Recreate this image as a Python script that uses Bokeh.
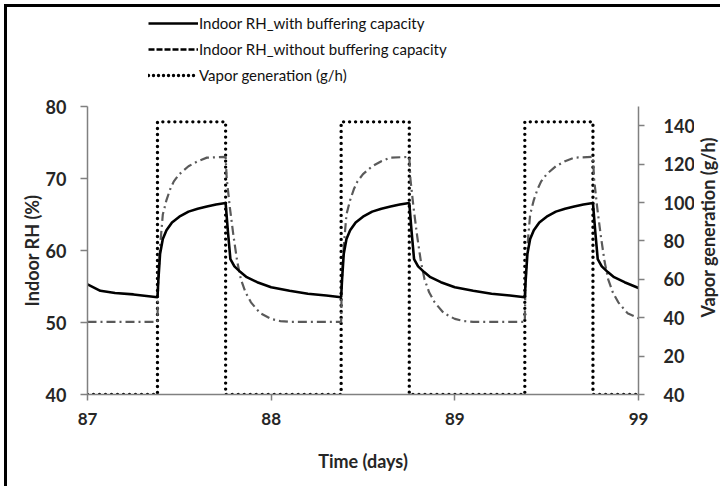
import math
from bokeh.plotting import figure
from bokeh.layouts import column, row
from bokeh.models import Range1d, LinearAxis, FixedTicker, Legend, LegendItem
from bokeh.core.properties import value
from bokeh.embed import file_html
from bokeh.resources import INLINE

# ---- data ----
time_with = [87.00, 87.07, 87.15, 87.25, 87.381, 87.386, 87.395, 87.41, 87.43, 87.46, 87.50, 87.55,
             87.60, 87.65, 87.70, 87.752, 87.765, 87.778, 87.80, 87.833, 87.867, 87.924,
             88.00, 88.10, 88.20, 88.30, 88.381, 88.386, 88.395, 88.41, 88.43, 88.46, 88.50, 88.55,
             88.60, 88.65, 88.70, 88.752, 88.765, 88.778, 88.80, 88.833, 88.867, 88.924,
             89.00, 89.10, 89.20, 89.30, 89.381, 89.386, 89.395, 89.41, 89.43, 89.46, 89.50, 89.55,
             89.60, 89.65, 89.70, 89.752, 89.765, 89.778, 89.80, 89.833, 89.867, 89.924, 90.00]
rh_with = [55.3, 54.4, 54.1, 53.9, 53.5, 56.0, 59.5, 61.6, 62.8, 63.9, 64.7, 65.4,
           65.8, 66.1, 66.4, 66.6, 62.5, 58.8, 57.8, 57.0, 56.3, 55.6,
           54.9, 54.4, 54.0, 53.75, 53.5, 56.0, 59.5, 61.6, 62.8, 63.9, 64.7, 65.4,
           65.8, 66.1, 66.4, 66.6, 62.5, 58.8, 57.8, 57.0, 56.3, 55.6,
           54.9, 54.4, 54.0, 53.75, 53.5, 56.0, 59.5, 61.6, 62.8, 63.9, 64.7, 65.4,
           65.8, 66.1, 66.4, 66.6, 62.5, 58.8, 57.8, 57.0, 56.3, 55.6, 54.8]

time_without = [87.00, 87.381, 87.384, 87.395, 87.41, 87.43, 87.45, 87.47, 87.50, 87.55, 87.60, 87.65,
                87.752, 87.758, 87.775, 87.795, 87.815, 87.835, 87.86, 87.89, 87.94, 88.00, 88.05, 88.10,
                88.381, 88.384, 88.395, 88.41, 88.43, 88.45, 88.47, 88.50, 88.55, 88.60, 88.65,
                88.752, 88.758, 88.775, 88.795, 88.815, 88.835, 88.86, 88.89, 88.94, 89.00, 89.05, 89.10,
                89.381, 89.384, 89.395, 89.41, 89.43, 89.45, 89.47, 89.50, 89.55, 89.60, 89.65,
                89.752, 89.758, 89.775, 89.795, 89.815, 89.835, 89.86, 89.89, 89.94, 90.00]
rh_without = [50.1, 50.1, 55.0, 60.5, 65.0, 67.0, 68.5, 69.6, 70.6, 71.7, 72.4, 72.9,
              73.0, 70.0, 66.0, 62.0, 58.5, 56.0, 54.2, 52.8, 51.3, 50.5, 50.2, 50.1,
              50.1, 55.0, 60.5, 65.0, 67.0, 68.5, 69.6, 70.6, 71.7, 72.4, 72.9,
              73.0, 70.0, 66.0, 62.0, 58.5, 56.0, 54.2, 52.8, 51.3, 50.5, 50.2, 50.1,
              50.1, 55.0, 60.5, 65.0, 67.0, 68.5, 69.6, 70.6, 71.7, 72.4, 72.9,
              73.0, 70.0, 66.0, 62.0, 58.5, 56.0, 54.2, 52.8, 51.3, 50.6]

time_vapor = [87.00, 87.381, 87.381, 87.752, 87.752, 88.381, 88.381, 88.752, 88.752,
              89.381, 89.381, 89.752, 89.752, 90.00]
vapor = [0, 0, 142, 142, 0, 0, 142, 142, 0, 0, 142, 142, 0, 0]

x_ticks = [87, 88, 89, 90]
x_tick_labels = ["87", "88", "89", "99"]
left_ticks = [40, 50, 60, 70, 80]
right_ticks = [0, 20, 40, 60, 80, 100, 120, 140]
right_tick_labels = ["40", "20", "40", "60", "80", "100", "120", "140"]

legend_labels = ["Indoor RH_with buffering capacity",
                 "Indoor RH_without buffering capacity",
                 "Vapor generation (g/h)"]
right_axis_title = "Vapor generation (g/h)"

FONT = "Lato"
AXIS_COLOR = "#808080"
TEXT_COLOR = "#262626"
BORDER = "3px solid black"

# ---- legend strip (top) : canvas 713 x 85 (+3 px CSS border on left and top) ----
leg = figure(width=716, height=88, output_backend="svg", toolbar_location=None,
             x_range=Range1d(0, 1), y_range=Range1d(0, 1), min_border=0,
             x_axis_location=None, y_axis_location=None)
leg.grid.visible = False
leg.outline_line_color = None
leg.styles = {"border-left": BORDER, "border-top": BORDER,
              "margin-left": "4px", "margin-top": "4px"}

nan = [math.nan]
l1 = leg.line(nan, nan, line_color="black", line_width=2.6)
l2 = leg.line(nan, nan, line_color="black", line_width=2.6, line_dash="6 2")
l3 = leg.line(nan, nan, line_color="black", line_width=3.4, line_dash="0 5", line_cap="round")

legend = Legend(items=[LegendItem(label=legend_labels[0], renderers=[l1]),
                       LegendItem(label=legend_labels[1], renderers=[l2]),
                       LegendItem(label=legend_labels[2], renderers=[l3])],
                location=(141, 7), orientation="vertical",
                padding=0, spacing=0, margin=0, glyph_width=50, glyph_height=26,
                label_height=26, label_standoff=1,
                label_text_font=FONT, label_text_font_size="15px", label_text_color="#111111",
                border_line_color=None, background_fill_alpha=0)
leg.add_layout(legend, "center")

# ---- main chart : canvas 687 x 394 (+3 px CSS border on left) ----
p = figure(width=690, height=394, output_backend="svg", toolbar_location=None,
           x_range=Range1d(87, 90), y_range=Range1d(40, 80),
           min_border_left=80, min_border_right=56, min_border_top=14, min_border_bottom=92,
           x_axis_location=None, y_axis_location=None)
p.extra_y_ranges = {"vap": Range1d(0, 150)}
p.styles = {"border-left": BORDER, "margin-left": "4px"}
p.grid.visible = False
p.outline_line_color = None
p.background_fill_color = "white"
p.border_fill_color = "white"


def style_axis(ax):
    ax.axis_line_color = AXIS_COLOR
    ax.axis_line_width = 1.5
    ax.major_tick_line_color = AXIS_COLOR
    ax.major_tick_line_width = 1.5
    ax.major_tick_out = 6
    ax.major_tick_in = 0
    ax.minor_tick_line_color = None
    ax.major_label_text_font = FONT
    ax.major_label_text_font_size = "18px"
    ax.major_label_text_font_style = "bold"
    ax.major_label_text_color = TEXT_COLOR
    ax.axis_label_text_font = FONT
    ax.axis_label_text_font_size = "18px"
    ax.axis_label_text_font_style = "bold"
    ax.axis_label_text_color = TEXT_COLOR


xaxis = LinearAxis(ticker=FixedTicker(ticks=x_ticks), axis_label="Time (days)",
                   major_label_overrides={k: v for k, v in zip(x_ticks, x_tick_labels)})
style_axis(xaxis)
xaxis.major_label_text_font_size = "17px"
xaxis.major_label_standoff = 12
xaxis.axis_label_standoff = 22
p.add_layout(xaxis, "below")

yaxis = LinearAxis(ticker=FixedTicker(ticks=left_ticks), axis_label="Indoor RH (%)")
style_axis(yaxis)
yaxis.major_tick_out = 7
yaxis.major_label_standoff = 14
yaxis.axis_label_standoff = 0
p.add_layout(yaxis, "left")

raxis = LinearAxis(y_range_name="vap", ticker=FixedTicker(ticks=right_ticks),
                   major_label_overrides={k: v for k, v in zip(right_ticks, right_tick_labels)})
style_axis(raxis)
raxis.major_label_standoff = 19
p.add_layout(raxis, "right")

# data lines
p.line(time_vapor, vapor, y_range_name="vap", line_color="black", line_width=3.4,
       line_dash="0 6", line_cap="round")
p.line(time_without, rh_without, line_color="#5a5a5a", line_width=2.2, line_dash="9 4 2 4")
p.line(time_with, rh_with, line_color="black", line_width=2.6)

# ---- right axis title strip (reads bottom-to-top, as in the reference) ----
rlab = figure(width=26, height=394, output_backend="svg", toolbar_location=None,
              x_range=Range1d(0, 1), y_range=Range1d(0, 1), min_border=0,
              x_axis_location=None, y_axis_location=None)
rlab.grid.visible = False
rlab.outline_line_color = None
rlab.text(x=[0.5], y=[0.58], text=[right_axis_title], angle=math.pi / 2,
          text_align="center", text_baseline="middle", text_font=value(FONT),
          text_font_size="18px", text_font_style="bold", text_color=TEXT_COLOR)

layout = column(leg, row(p, rlab, spacing=0), spacing=0)
open("out.html", "w").write(file_html(layout, INLINE))
